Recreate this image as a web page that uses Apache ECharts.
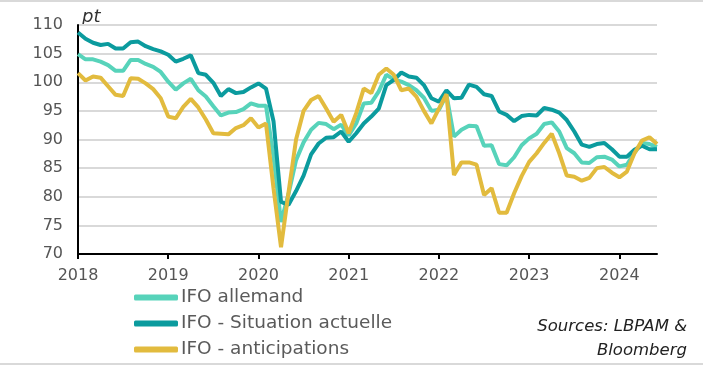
<!DOCTYPE html>
<html>
<head>
<meta charset="utf-8">
<script src="https://cdn.jsdelivr.net/npm/echarts@6/dist/echarts.min.js"></script>
<style>
html,body{margin:0;padding:0;background:#fff;}
#chart{width:703px;height:365px;}
</style>
</head>
<body>
<div id="chart"></div>
<script>
// Monthly data, Jan 2018 -> Jun 2024
var startYear = 2018;
var yearTicks = [2018, 2019, 2020, 2021, 2022, 2023, 2024];
var yTicks = [70, 75, 80, 85, 90, 95, 100, 105, 110];
var seriesNames = ['IFO allemand', 'IFO - Situation actuelle', 'IFO - anticipations'];

var ifoAllemand = [
  104.9, 104.0, 104.0, 103.6, 103.0, 102.0, 102.0, 103.9, 103.9, 103.2, 102.7, 101.8,
  100.1, 98.7, 99.8, 100.6, 98.6, 97.5, 95.8, 94.2, 94.7, 94.8, 95.3, 96.3,
  95.9, 95.9, 87.0, 75.6, 80.5, 86.4, 89.5, 91.7, 92.9, 92.7, 91.8, 92.6,
  90.7, 92.8, 96.3, 96.4, 98.4, 101.3, 100.5, 100.1, 99.5, 98.6, 97.3, 95.0,
  95.2, 97.8, 90.5, 91.7, 92.4, 92.3, 88.9, 89.0, 85.7, 85.5, 86.9, 89.0,
  90.2, 91.0, 92.7, 93.0, 91.4, 88.5, 87.6, 86.0, 85.9, 86.9, 87.0, 86.5,
  85.3, 85.6, 87.7, 89.4, 89.2, 88.7
];
var ifoSituation = [
  108.7, 107.6, 106.9, 106.5, 106.7, 105.9, 105.9, 107.0, 107.1, 106.3, 105.8, 105.4,
  104.8, 103.6, 104.1, 104.7, 101.6, 101.3, 99.9, 97.6, 98.8, 98.1, 98.3, 99.1,
  99.8, 98.9, 93.2, 79.1, 78.6, 81.0, 83.7, 87.4, 89.3, 90.3, 90.4, 91.4,
  89.6, 91.1, 92.8, 94.0, 95.4, 99.5, 100.4, 101.7, 101.0, 100.8, 99.5, 97.2,
  96.6, 98.6, 97.2, 97.3, 99.6, 99.2, 97.9, 97.6, 94.9, 94.3, 93.2, 94.1,
  94.3, 94.2, 95.5, 95.2, 94.7, 93.4, 91.4, 89.1, 88.7, 89.2, 89.4, 88.3,
  87.0, 87.0, 88.2, 88.9, 88.3, 88.3
];
var ifoAnticipations = [
  101.6, 100.3, 101.0, 100.8, 99.3, 97.8, 97.6, 100.7, 100.6, 99.8, 98.8, 97.2,
  94.0, 93.7, 95.7, 97.1, 95.6, 93.5, 91.1, 91.0, 90.9, 92.0, 92.5, 93.7,
  92.1, 92.8, 81.5, 71.2, 80.8, 90.0, 95.0, 96.9, 97.6, 95.4, 93.1, 94.3,
  91.1, 94.6, 98.9, 98.1, 101.3, 102.4, 101.3, 98.6, 98.9, 97.5, 95.0, 92.8,
  95.4, 97.9, 83.8, 86.0, 86.0, 85.6, 80.3, 81.5, 77.2, 77.2, 80.6, 83.6,
  86.1, 87.6, 89.4, 91.0, 87.6, 83.7, 83.5, 82.8, 83.3, 85.0, 85.2, 84.2,
  83.4, 84.4, 87.6, 89.8, 90.4, 89.2
];

function toPairs(arr) {
  return arr.map(function (v, i) { return [startYear + i / 12, v]; });
}

var FONT = 'DejaVu Sans';
var chart = echarts.init(document.getElementById('chart'), null, {renderer: 'canvas'});
chart.setOption({
  animation: false,
  backgroundColor: '#ffffff',
  textStyle: {fontFamily: FONT},
  grid: {left: 78, right: 46, top: 25, bottom: 111, containLabel: false},
  xAxis: {
    type: 'value',
    min: 2018,
    max: 2018 + 77 / 12,
    interval: 1,
    axisLine: {show: true, lineStyle: {color: '#000', width: 2}},
    axisTick: {show: true, length: 5, lineStyle: {color: '#000', width: 2}, customValues: yearTicks},
    axisLabel: {margin: 14, fontSize: 16, color: '#555', fontFamily: FONT, customValues: yearTicks,
      formatter: function (v) { return String(Math.round(v)); }},
    splitLine: {show: false}
  },
  yAxis: {
    type: 'value',
    min: 70,
    max: 110,
    interval: 5,
    axisLine: {show: true, lineStyle: {color: '#000', width: 2}},
    axisTick: {show: false},
    axisLabel: {margin: 15, fontSize: 16, color: '#555', fontFamily: FONT},
    splitLine: {show: true, lineStyle: {color: '#d9d9d9', width: 2}}
  },
  legend: {
    show: true,
    orient: 'vertical',
    left: 134,
    top: 288,
    padding: 0,
    itemWidth: 44,
    itemHeight: 6,
    itemGap: 7,
    icon: 'roundRect',
    textStyle: {fontSize: 18.5, lineHeight: 19, color: '#5a5a5a', fontFamily: FONT, padding: [0, 0, 0, -2]},
    data: seriesNames
  },
  graphic: [
    {type: 'rect', left: 0, top: 0, shape: {width: 703, height: 2}, style: {fill: '#d9d9d9'}},
    {type: 'rect', left: 0, top: 363, shape: {width: 703, height: 2}, style: {fill: '#d9d9d9'}},
    {type: 'text', left: 82, top: 8, style: {text: 'pt', fontSize: 18, fontStyle: 'italic', fill: '#333', fontFamily: FONT}},
    {type: 'text', x: 687, y: 315, style: {text: 'Sources: LBPAM &\nBloomberg', fontSize: 16.5, fontStyle: 'italic', fill: '#222', fontFamily: FONT, align: 'right', verticalAlign: 'top', lineHeight: 24}}
  ],
  series: [
    {name: seriesNames[0], type: 'line', data: toPairs(ifoAllemand), showSymbol: false, color: '#57d3ba',
      lineStyle: {width: 4, color: '#57d3ba'}},
    {name: seriesNames[1], type: 'line', data: toPairs(ifoSituation), showSymbol: false, color: '#0b9b9e',
      lineStyle: {width: 4, color: '#0b9b9e'}},
    {name: seriesNames[2], type: 'line', data: toPairs(ifoAnticipations), showSymbol: false, color: '#e2bb3e',
      lineStyle: {width: 4, color: '#e2bb3e'}}
  ]
});
</script>
</body>
</html>
